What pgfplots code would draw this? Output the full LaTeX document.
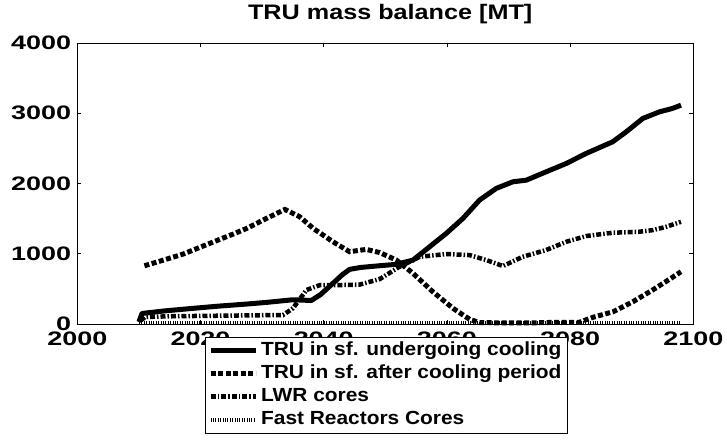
\documentclass[border=0pt]{standalone}
\usepackage{fontspec}
\setmainfont{Liberation Sans}
\newfontfamily\titlefont{Liberation Sans}[FakeStretch=1.2]
\newfontfamily\tickfont{Liberation Sans}[FakeStretch=1.38]
\newfontfamily\legfont{Liberation Sans}[FakeStretch=1.1]
\usepackage{pgfplots}
\pgfplotsset{compat=1.18}

% TRU mass balance, values in MT
\pgfplotstableread{
year  val
2010.0 30
2010.5 150
2014.0 185
2018.8 223
2023.0 255
2027.5 284
2031.0 310
2035.0 345
2038.0 335
2039.5 420
2041.5 579
2043.0 700
2044.2 778
2046.0 805
2048.5 825
2051.8 850
2054.5 910
2057.2 1100
2059.9 1290
2062.6 1503
2065.3 1764
2068.0 1930
2070.7 2024
2072.9 2048
2076.1 2166
2079.4 2286
2082.6 2428
2086.9 2593
2089.1 2735
2091.8 2926
2094.5 3020
2096.6 3068
2098.0 3115
}\cooling
\pgfplotstableread{
year  val
2010.9 829
2014.0 910
2017.2 996
2020.0 1095
2023.1 1204
2025.3 1280
2027.5 1361
2030.7 1503
2033.7 1631
2036.1 1527
2038.3 1361
2041.5 1171
2044.2 1029
2046.9 1062
2049.1 1017
2051.8 910
2054.5 721
2057.7 460
2061.0 223
2063.7 66
2065.3 20
2070.0 15
2075.0 18
2078.0 25
2081.5 25
2083.7 95
2087.0 175
2090.2 318
2093.4 484
2096.1 635
2098.0 744
}\aftercool
\pgfplotstableread{
year  val
2010.3 50
2011.0 100
2015.0 110
2020.0 115
2025.0 120
2030.0 125
2033.4 128
2035.0 223
2037.2 484
2039.4 555
2043.1 555
2045.8 560
2049.1 640
2052.3 815
2055.6 957
2059.9 996
2063.7 981
2066.4 910
2069.1 825
2072.3 957
2076.1 1053
2079.4 1171
2082.6 1252
2086.9 1299
2091.2 1313
2093.4 1336
2095.6 1384
2098.0 1455
}\lwr
\pgfplotstableread{
year  val
2010.0 8
2030.0 8
2050.0 8
2070.0 8
2098.0 8
}\fast

\begin{document}
\begin{tikzpicture}
\begin{axis}[
    scale only axis,
    width=616pt, height=281pt,
    xmin=2000, xmax=2100, ymin=0, ymax=4000,
    xtick={2000,2020,...,2100},
    ytick={0,1000,...,4000},
    tick align=inside,
    major tick length=4pt,
    tick style={black, line width=0.6pt},
    axis line style={line width=0.8pt},
    /pgf/number format/assume math mode=true,
    /pgf/number format/1000 sep={},
    ticklabel style={font=\tickfont\bfseries\fontsize{19.5}{22}\selectfont},
    xticklabel style={anchor=north, inner sep=0pt, yshift=-8pt},
    yticklabel style={anchor=east, inner sep=0pt, xshift=-6pt},
    title={TRU mass balance [MT]},
    title style={font=\titlefont\bfseries\fontsize{21}{25}\selectfont,
        at={(axis description cs:0.508,1)}, anchor=base, yshift=18pt},
    clip=false,
    legend style={at={(axis description cs:0.207,-0.046)}, anchor=north west,
        draw=black, line width=0.6pt, fill=white,
        font=\legfont\bfseries\fontsize{19}{22}\selectfont,
        inner xsep=3pt, inner ysep=2pt,
        nodes={inner xsep=3pt, inner ysep=2.5pt, text height=14pt, text depth=4pt},
        cells={anchor=west}},
    legend image code/.code={\draw[#1] (0pt,0pt) -- (45pt,0pt);},
]
\addplot[black, line width=5pt, line join=round] table[x=year, y=val] {\cooling};
\addlegendentry{TRU in sf. undergoing cooling}
\addplot[black, line width=5pt, dash pattern=on 5pt off 2.5pt] table[x=year, y=val] {\aftercool};
\addlegendentry{TRU in sf. after cooling period}
\addplot[black, line width=4.5pt, dash pattern=on 5pt off 2pt on 1.5pt off 2pt] table[x=year, y=val] {\lwr};
\addlegendentry{LWR cores}
\addplot[black, line width=4pt, dash pattern=on 0.8pt off 1.6pt] table[x=year, y=val] {\fast};
\addlegendentry{Fast Reactors Cores}
\coordinate (O) at (rel axis cs:0,0);
\end{axis}
\pgfresetboundingbox
\path[use as bounding box] (O) ++(-77.3pt,-116pt) rectangle ++(727pt,440pt);
\end{tikzpicture}
\end{document}
